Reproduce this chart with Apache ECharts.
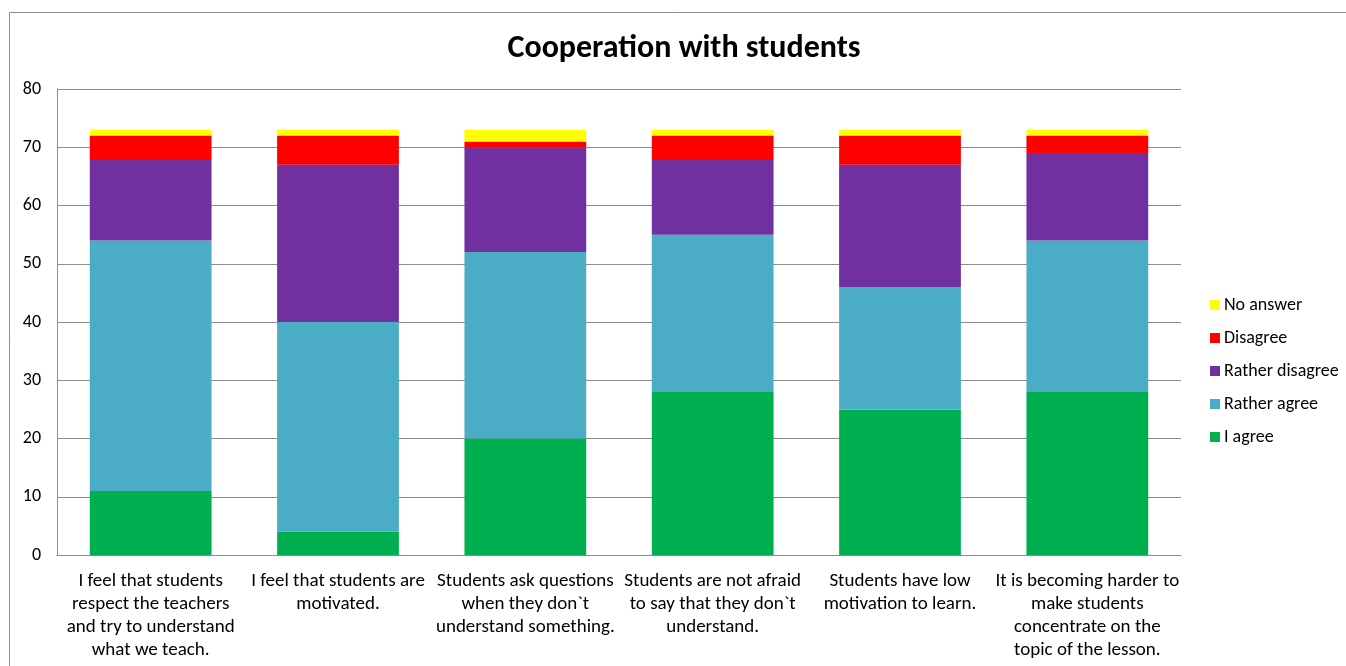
<!DOCTYPE html>
<html><head><meta charset="utf-8">
<script src="https://cdn.jsdelivr.net/npm/echarts@6/dist/echarts.min.js"></script>
<style>html,body{margin:0;padding:0;background:#fff}#c{width:1346px;height:666px}</style>
</head><body><div id="c"></div>
<script>
const categories = [
  "I feel that students\nrespect the teachers\nand try to understand\nwhat we teach.",
  "I feel that students are\nmotivated.",
  "Students ask questions\nwhen they don`t\nunderstand something.",
  "Students are not afraid\nto say that they don`t\nunderstand.",
  "Students have low\nmotivation to learn.",
  "It is becoming harder to\nmake students\nconcentrate on the\ntopic of the lesson."
];
const iAgree = [11, 4, 20, 28, 25, 28];
const ratherAgree = [43, 36, 32, 27, 21, 26];
const ratherDisagree = [14, 27, 18, 13, 21, 15];
const disagree = [4, 5, 1, 4, 5, 3];
const noAnswer = [1, 1, 2, 1, 1, 1];
const yTicks = [0, 10, 20, 30, 40, 50, 60, 70, 80];

const font = "Carlito, 'Open Sans', 'Liberation Sans', sans-serif";
const chart = echarts.init(document.getElementById('c'));
function s(name, data, color) {
  return {name, type: 'bar', stack: 'total', data, barCategoryGap: '35%',
    itemStyle: {color}, emphasis: {disabled: true}};
}
chart.setOption({
  animation: false,
  graphic: [{type: 'rect', shape: {x: 9.5, y: 12.5, width: 1400, height: 700},
    style: {fill: 'none', stroke: '#8c8c8c', lineWidth: 1}}],
  title: {text: 'Cooperation with students', left: 679, top: 28, textAlign: 'center',
    textStyle: {fontFamily: font, fontSize: 32, fontWeight: 'bold', color: '#000'}},
  legend: {
    data: ['No answer', 'Disagree', 'Rather disagree', 'Rather agree', 'I agree'],
    orient: 'vertical', left: 1205, top: 291, itemGap: 15,
    itemWidth: 10, itemHeight: 10, icon: 'rect',
    textStyle: {fontFamily: font, fontSize: 18, lineHeight: 18, color: '#000', padding: [0, 0, 0, -1]}
  },
  grid: {left: 57, right: 165, top: 89, bottom: 111},
  xAxis: {
    type: 'category', data: categories,
    axisLine: {lineStyle: {color: '#8c8c8c'}},
    axisTick: {show: false},
    axisLabel: {interval: 0, fontFamily: font, fontSize: 19, color: '#000',
      lineHeight: 23, margin: 15}
  },
  yAxis: {
    type: 'value', min: 0, max: 80, interval: 10,
    axisLine: {show: true, lineStyle: {color: '#8c8c8c'}},
    axisTick: {show: false},
    splitLine: {lineStyle: {color: '#8c8c8c'}},
    axisLabel: {fontFamily: font, fontSize: 18, color: '#000', margin: 16,
      formatter: v => yTicks.includes(v) ? String(v) : ''}
  },
  series: [
    s('I agree', iAgree, '#00B050'),
    s('Rather agree', ratherAgree, '#4BACC6'),
    s('Rather disagree', ratherDisagree, '#7030A0'),
    s('Disagree', disagree, '#FF0000'),
    s('No answer', noAnswer, '#FFFF00')
  ]
});
</script></body></html>
